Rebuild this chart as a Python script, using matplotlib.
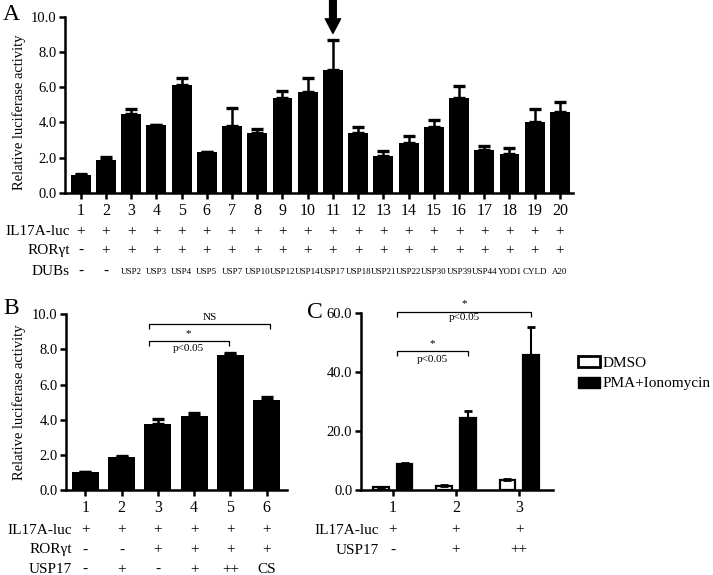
import matplotlib
matplotlib.use('Agg')
import matplotlib.pyplot as plt
from matplotlib.patches import Patch
from matplotlib import transforms
import numpy as np

plt.rcParams['font.family'] = ['Liberation Serif', 'DejaVu Serif']

# ---------------- data ----------------
a_lanes = list(range(1, 21))
a_values = [1.0, 1.85, 4.45, 3.83, 6.14, 2.30, 3.79, 3.41, 5.36, 5.74,
            6.99, 3.41, 2.08, 2.82, 3.73, 5.40, 2.44, 2.20, 4.02, 4.56]
a_errors = [0.05, 0.20, 0.28, 0.02, 0.40, 0.04, 1.04, 0.19, 0.40, 0.79,
            1.67, 0.32, 0.27, 0.38, 0.42, 0.64, 0.21, 0.34, 0.73, 0.57]
a_il17 = ['+'] * 20
a_rorgt = ['-'] + ['+'] * 19
a_dubs = ['-', '-', 'USP2', 'USP3', 'USP4', 'USP5', 'USP7', 'USP10', 'USP12',
          'USP14', 'USP17', 'USP18', 'USP21', 'USP22', 'USP30', 'USP39',
          'USP44', 'YOD1', 'CYLD', 'A20']

b_lanes = [1, 2, 3, 4, 5, 6]
b_values = [1.0, 1.85, 3.78, 4.22, 7.70, 5.12]
b_errors = [0.03, 0.10, 0.26, 0.18, 0.10, 0.17]
b_il17 = ['+', '+', '+', '+', '+', '+']
b_rorgt = ['-', '-', '+', '+', '+', '+']
b_usp17 = ['-', '+', '-', '+', '++', 'CS']

c_groups = [1, 2, 3]
c_dmso = [1.0, 1.5, 3.4]
c_dmso_err = [0.1, 0.15, 0.3]
c_pma = [8.7, 24.4, 45.8]
c_pma_err = [0.3, 2.4, 9.4]
c_il17 = ['+', '+', '+']
c_usp17 = ['-', '+', '++']

ylabel = 'Relative luciferase activity'

# ---------------- figure ----------------
W, H = 713, 575
fig = plt.figure(figsize=(W / 100, H / 100), dpi=100)


def fx(px):
    return px / W


def fy(py):
    return 1 - py / H


def make_ax(l, t, r, b):
    return fig.add_axes([fx(l), fy(b), fx(r) - fx(l), (b - t) / H])


def style(ax, ylim, yticks, xt, xlabels):
    for s in ['top', 'right']:
        ax.spines[s].set_visible(False)
    for s in ['left', 'bottom']:
        ax.spines[s].set_linewidth(1.8)
    ax.set_ylim(*ylim)
    ax.set_yticks(yticks)
    ax.set_yticklabels(['%.1f' % v for v in yticks], fontsize=10.5)
    ax.set_xticks(xt)
    ax.set_xticklabels([str(v) for v in xlabels], fontsize=11.5)
    ax.tick_params(axis='y', direction='out', length=4, width=1.8, pad=2)
    ax.tick_params(axis='x', direction='out', length=4.5, width=1.8, pad=3)


def rows(ax, labels, signs_list, xs, ys, label_right, fs_list):
    tr = transforms.blended_transform_factory(ax.transData, fig.transFigure)
    for lab, signs, y, fs in zip(labels, signs_list, ys, fs_list):
        fig.text(fx(label_right), fy(y), lab, ha='right', va='center', fontsize=11)
        for x, s in zip(xs, signs):
            f = fs if s not in ['-', '+', '++', 'CS'] else 11
            ax.text(x, fy(y), s, transform=tr, ha='center', va='center',
                    fontsize=f, clip_on=False)


def bracket(ax, x1, x2, y, drop, star_y, p_y, top_text='*', bottom_text='p<0.05'):
    ax.plot([x1, x1, x2, x2], [y - drop, y, y, y - drop], color='black',
            lw=0.9, clip_on=False, solid_capstyle='butt')
    xm = (x1 + x2) / 2
    ax.text(xm, star_y, top_text, ha='center', va='center', fontsize=8, clip_on=False)
    if bottom_text:
        ax.text(xm, p_y, bottom_text, ha='center', va='center', fontsize=8, clip_on=False)


# ---------------- Panel A ----------------
axA = make_ax(65, 16.7, 573.3, 192.7)
axA.bar(a_lanes, a_values, width=0.79, color='black', linewidth=0)
axA.errorbar(a_lanes, a_values, yerr=[np.zeros(len(a_errors)), a_errors], fmt='none',
             ecolor='black', elinewidth=1.8, capsize=4.2, capthick=2.4)
axA.set_xlim(0.378, 20.53)
style(axA, (0, 10), [0, 2, 4, 6, 8, 10], a_lanes, a_lanes)
axA.annotate('', xy=(11, 9.05), xytext=(11, 10.95), xycoords='data',
             arrowprops=dict(facecolor='black', edgecolor='black', width=4.8,
                             headwidth=11, headlength=10.5, shrink=0),
             annotation_clip=False)
rows(axA, ['IL17A-luc', 'ROR\u03b3t', 'DUBs'], [a_il17, a_rorgt, a_dubs],
     a_lanes, [231.7, 250.7, 271.7], 70, [11, 11, 6.5])
fig.text(fx(19), fy(112), ylabel, rotation=90, ha='center', va='center', fontsize=10.5)
fig.text(fx(11), fy(15), 'A', ha='center', va='center', fontsize=17)

# ---------------- Panel B ----------------
axB = make_ax(66, 314.3, 286.7, 490)
axB.bar(b_lanes, b_values, width=0.75, color='black', linewidth=0)
axB.errorbar(b_lanes, b_values, yerr=[np.zeros(len(b_errors)), b_errors], fmt='none',
             ecolor='black', elinewidth=1.8, capsize=4.5, capthick=2.4)
axB.set_xlim(0.468, 6.55)
style(axB, (0, 10), [0, 2, 4, 6, 8, 10], b_lanes, b_lanes)
rows(axB, ['IL17A-luc', 'ROR\u03b3t', 'USP17'], [b_il17, b_rorgt, b_usp17],
     b_lanes, [530, 550, 569.3], 72, [11, 11, 11])
bracket(axB, 2.75, 6.1, 9.47, 0.28, 9.82, None, top_text='NS', bottom_text=None)
bracket(axB, 2.75, 4.95, 8.5, 0.28, 8.92, 8.05)
fig.text(fx(19), fy(402), ylabel, rotation=90, ha='center', va='center', fontsize=10.5)
fig.text(fx(11.5), fy(309), 'B', ha='center', va='center', fontsize=17)

# ---------------- Panel C ----------------
axC = make_ax(360.7, 313.3, 552.7, 490)
cg = np.array(c_groups, dtype=float)
off = 0.187
bw = 0.245
axC.bar(cg - off, c_dmso, width=bw, color='white', edgecolor='black', linewidth=1.6,
        label='DMSO', zorder=2)
axC.bar(cg + off, c_pma, width=bw, color='black', edgecolor='black', linewidth=1.6,
        label='PMA+Ionomycin', zorder=2)
axC.errorbar(cg - off, c_dmso, yerr=[np.zeros(3), c_dmso_err], fmt='none',
             ecolor='black', elinewidth=1.5, capsize=3, capthick=2, zorder=3)
axC.errorbar(cg + off, c_pma, yerr=[np.zeros(3), c_pma_err], fmt='none',
             ecolor='black', elinewidth=1.5, capsize=3.2, capthick=2, zorder=3)
axC.set_xlim(0.494, 3.53)
style(axC, (0, 60), [0, 20, 40, 60], c_groups, c_groups)
rows(axC, ['IL17A-luc', 'USP17'], [c_il17, c_usp17], c_groups, [530, 550], 379, [11, 11])
bracket(axC, 1.07, 3.19, 60.5, 1.7, 63.3, 58.5)
bracket(axC, 1.07, 2.19, 47.3, 1.7, 49.8, 44.4)
fig.text(fx(315), fy(312), 'C', ha='center', va='center', fontsize=17)

handles = [Patch(facecolor='white', edgecolor='black', linewidth=2, label='DMSO'),
           Patch(facecolor='black', edgecolor='black', linewidth=1, label='PMA+Ionomycin')]
fig.legend(handles=handles, loc='upper left', bbox_to_anchor=(fx(578), fy(356)),
           frameon=False, fontsize=11, handlelength=1.45, handleheight=0.72,
           handletextpad=0.15, labelspacing=0.45, borderpad=0, borderaxespad=0)

fig.savefig('out.png', dpi=100)
